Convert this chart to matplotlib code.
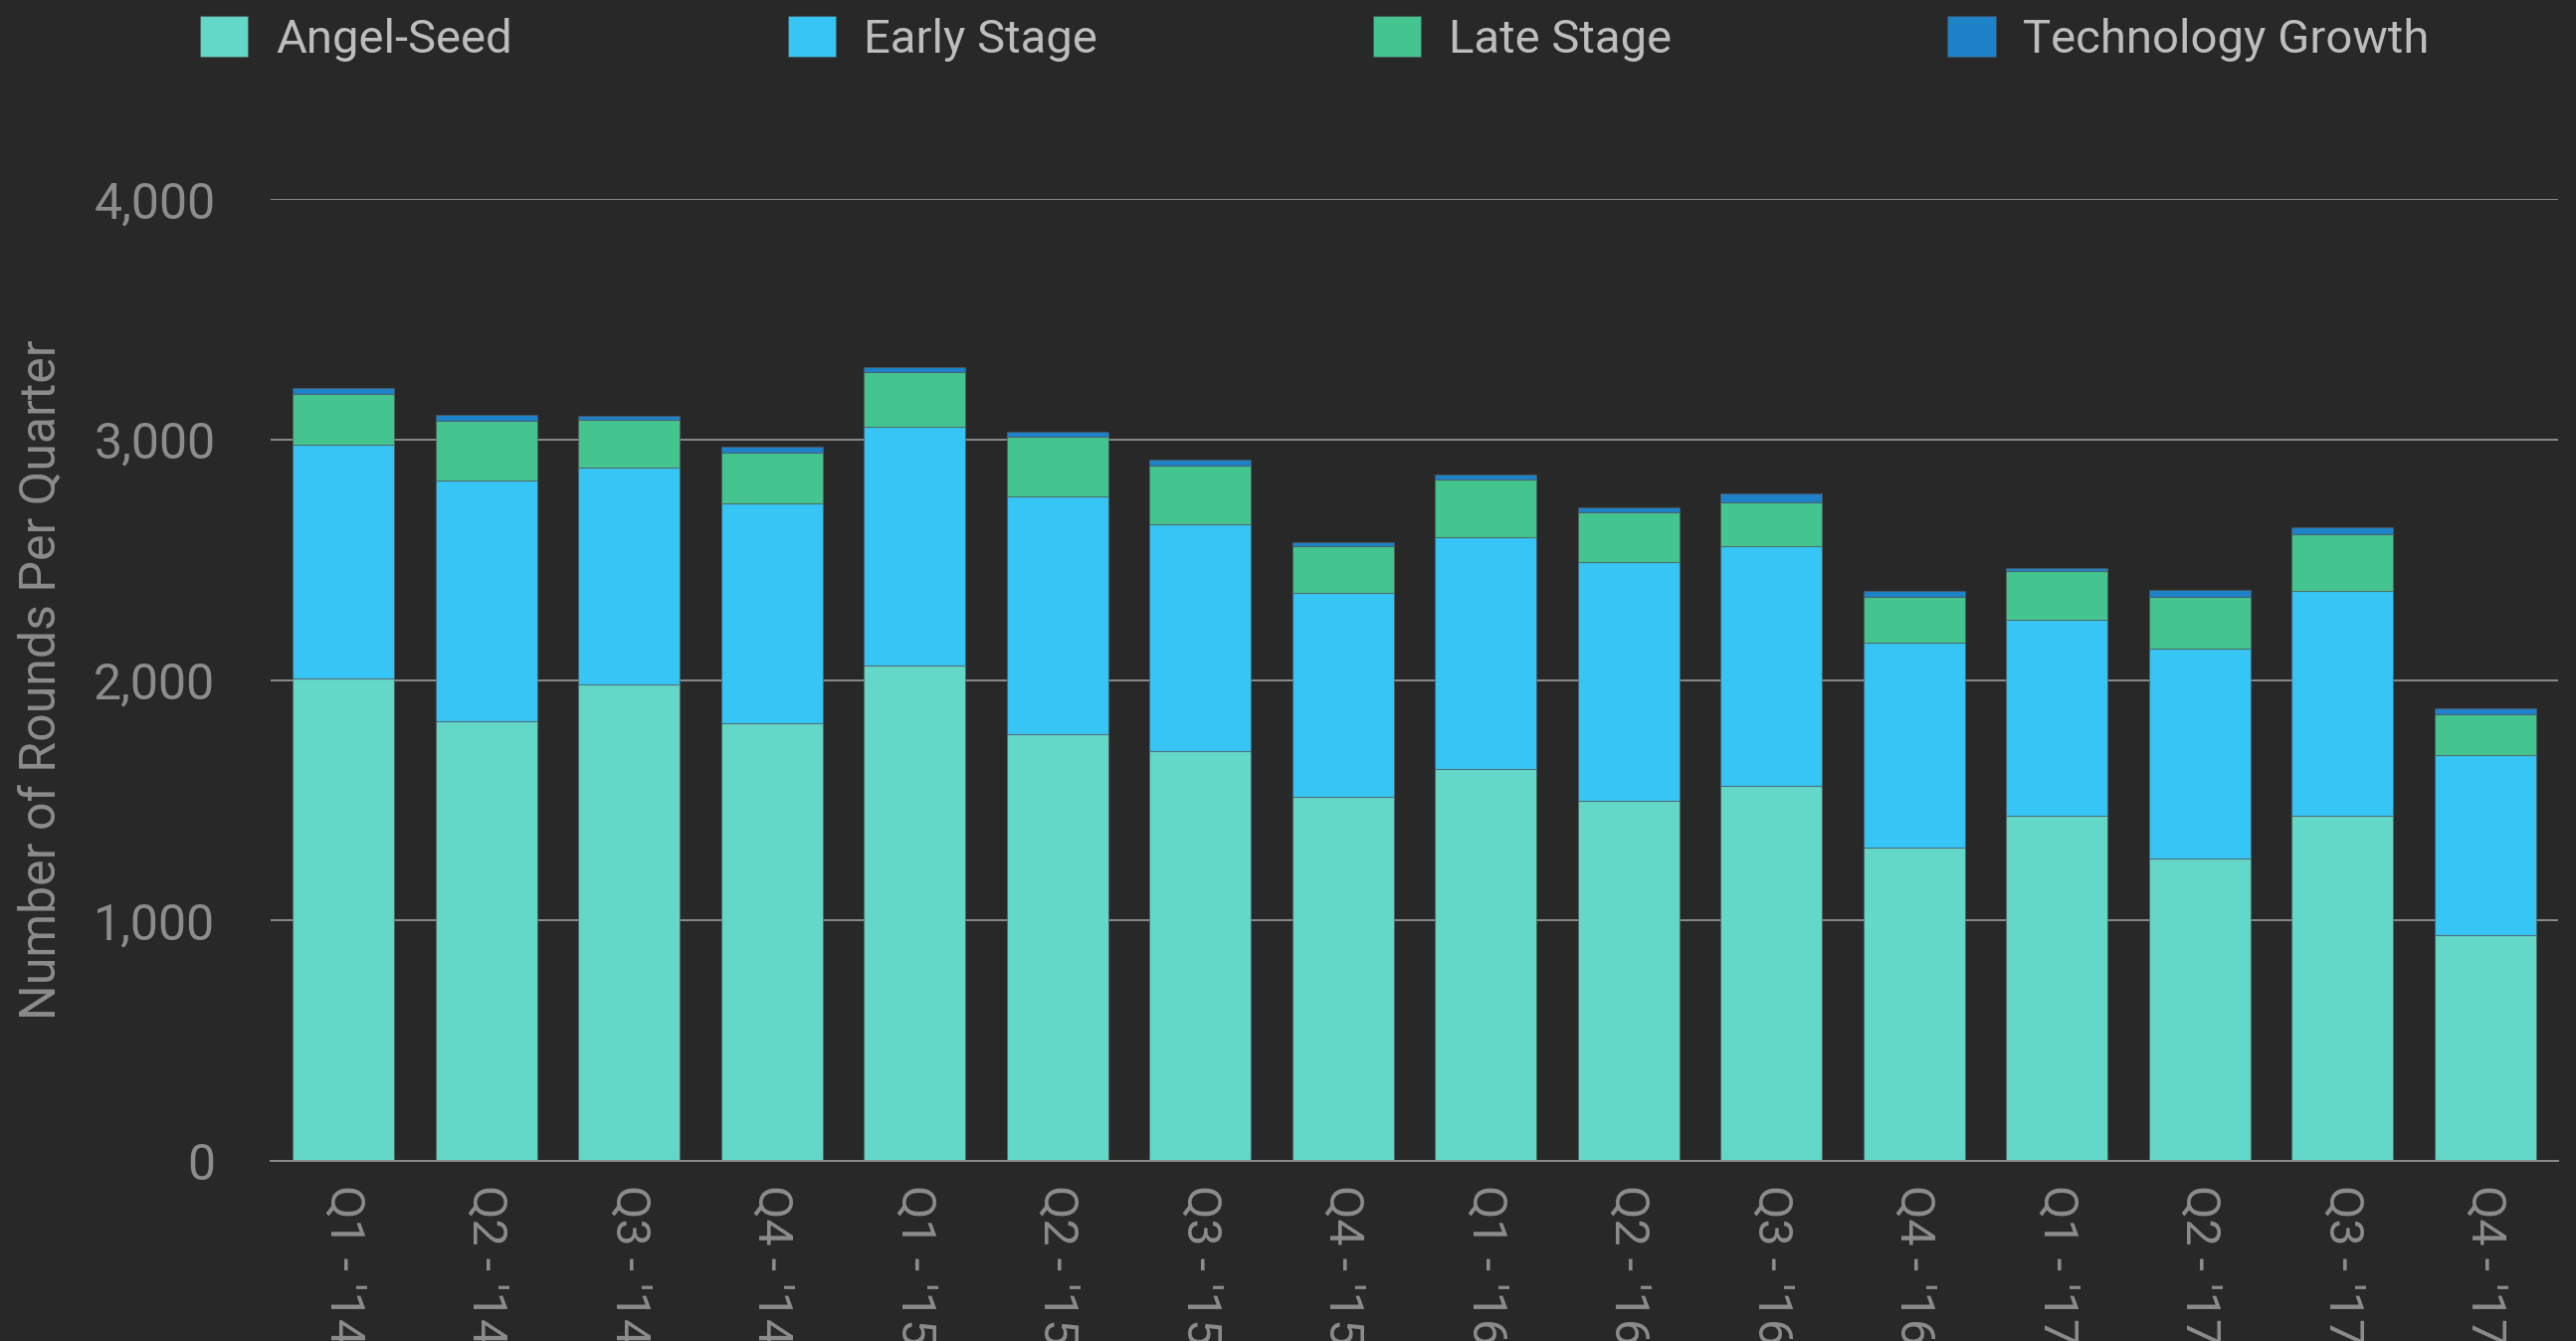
from matplotlib import pyplot as plt
from matplotlib.patches import Patch
import numpy as np

# Deal counts per quarter, stacked by stage
quarters = ["Q1 - '14", "Q2 - '14", "Q3 - '14", "Q4 - '14",
            "Q1 - '15", "Q2 - '15", "Q3 - '15", "Q4 - '15",
            "Q1 - '16", "Q2 - '16", "Q3 - '16", "Q4 - '16",
            "Q1 - '17", "Q2 - '17", "Q3 - '17", "Q4 - '17"]
angel_seed = [2007, 1829, 1983, 1818, 2059, 1774, 1705, 1514,
              1630, 1497, 1561, 1302, 1434, 1256, 1434, 940]
early_stage = [971, 1002, 899, 915, 995, 988, 942, 847,
               962, 992, 997, 855, 816, 874, 936, 747]
late_stage = [213, 245, 199, 212, 227, 250, 246, 194,
              241, 206, 182, 189, 205, 216, 234, 171]
tech_growth = [22, 27, 18, 23, 18, 18, 23, 19,
               23, 23, 36, 24, 11, 29, 29, 24]

series = ["Angel-Seed", "Early Stage", "Late Stage", "Technology Growth"]
colors = ["#64d8c8", "#36c5f5", "#44c590", "#1e82c8"]

bg = "#282828"
tick_col = "#8c8c8c"
legend_col = "#bdbdbd"

plt.rcParams["font.family"] = ["Roboto", "DejaVu Sans"]

fig = plt.figure(figsize=(25.89, 13.48), dpi=100, facecolor=bg)
ax = fig.add_axes([272 / 2589, 1 - 1167 / 1348,
                   (2571 - 272) / 2589, (1167 - 200) / 1348])
ax.set_facecolor(bg)

x = np.arange(len(quarters))
bottom = np.zeros(len(quarters))
for vals, c, name in zip([angel_seed, early_stage, late_stage, tech_growth], colors, series):
    ax.bar(x, vals, width=0.71, bottom=bottom, color=c, label=name,
           edgecolor=(0.35, 0.35, 0.35, 0.6), linewidth=0.8, zorder=2)
    bottom += np.array(vals)

ax.set_xlim(-0.51, len(quarters) - 0.49)
ax.set_ylim(0, 4000)
ax.set_yticks([0, 1000, 2000, 3000, 4000])
ax.set_yticklabels(["{:,}".format(v) for v in [0, 1000, 2000, 3000, 4000]])
ax.yaxis.grid(True, color="#8a8a8a", linewidth=1.4, zorder=0)
ax.set_axisbelow(True)

ax.set_xticks(x)
ax.set_xticklabels(quarters, rotation=270)

for s in ["top", "right", "left"]:
    ax.spines[s].set_visible(False)
ax.spines["bottom"].set_color("#8a8a8a")
ax.spines["bottom"].set_linewidth(1.4)

ax.tick_params(axis="y", length=0, pad=40, labelsize=36, labelcolor=tick_col)
ax.tick_params(axis="x", length=0, pad=17, labelsize=35, labelcolor=tick_col)
for lbl in ax.get_xticklabels():
    lbl.set_va("top")
    lbl.set_ha("center")

fig.text(41 / 2589, 1 - 683 / 1348, "Number of Rounds Per Quarter", rotation=90,
         ha="center", va="center", fontsize=36, color=tick_col)

handles = [Patch(facecolor=c, edgecolor=(0.3, 0.3, 0.3, 0.5), linewidth=0.8) for c in colors]
leg = fig.legend(handles, series, loc="upper left", ncol=4,
                 bbox_to_anchor=(201 / 2589, 1 - 16 / 1348),
                 frameon=False, borderpad=0, borderaxespad=0,
                 fontsize=34, handlelength=1.02, handleheight=0.97,
                 handletextpad=0.59, columnspacing=5.87)
for t in leg.get_texts():
    t.set_color(legend_col)

fig.savefig("out.png", dpi=100, facecolor=bg)
